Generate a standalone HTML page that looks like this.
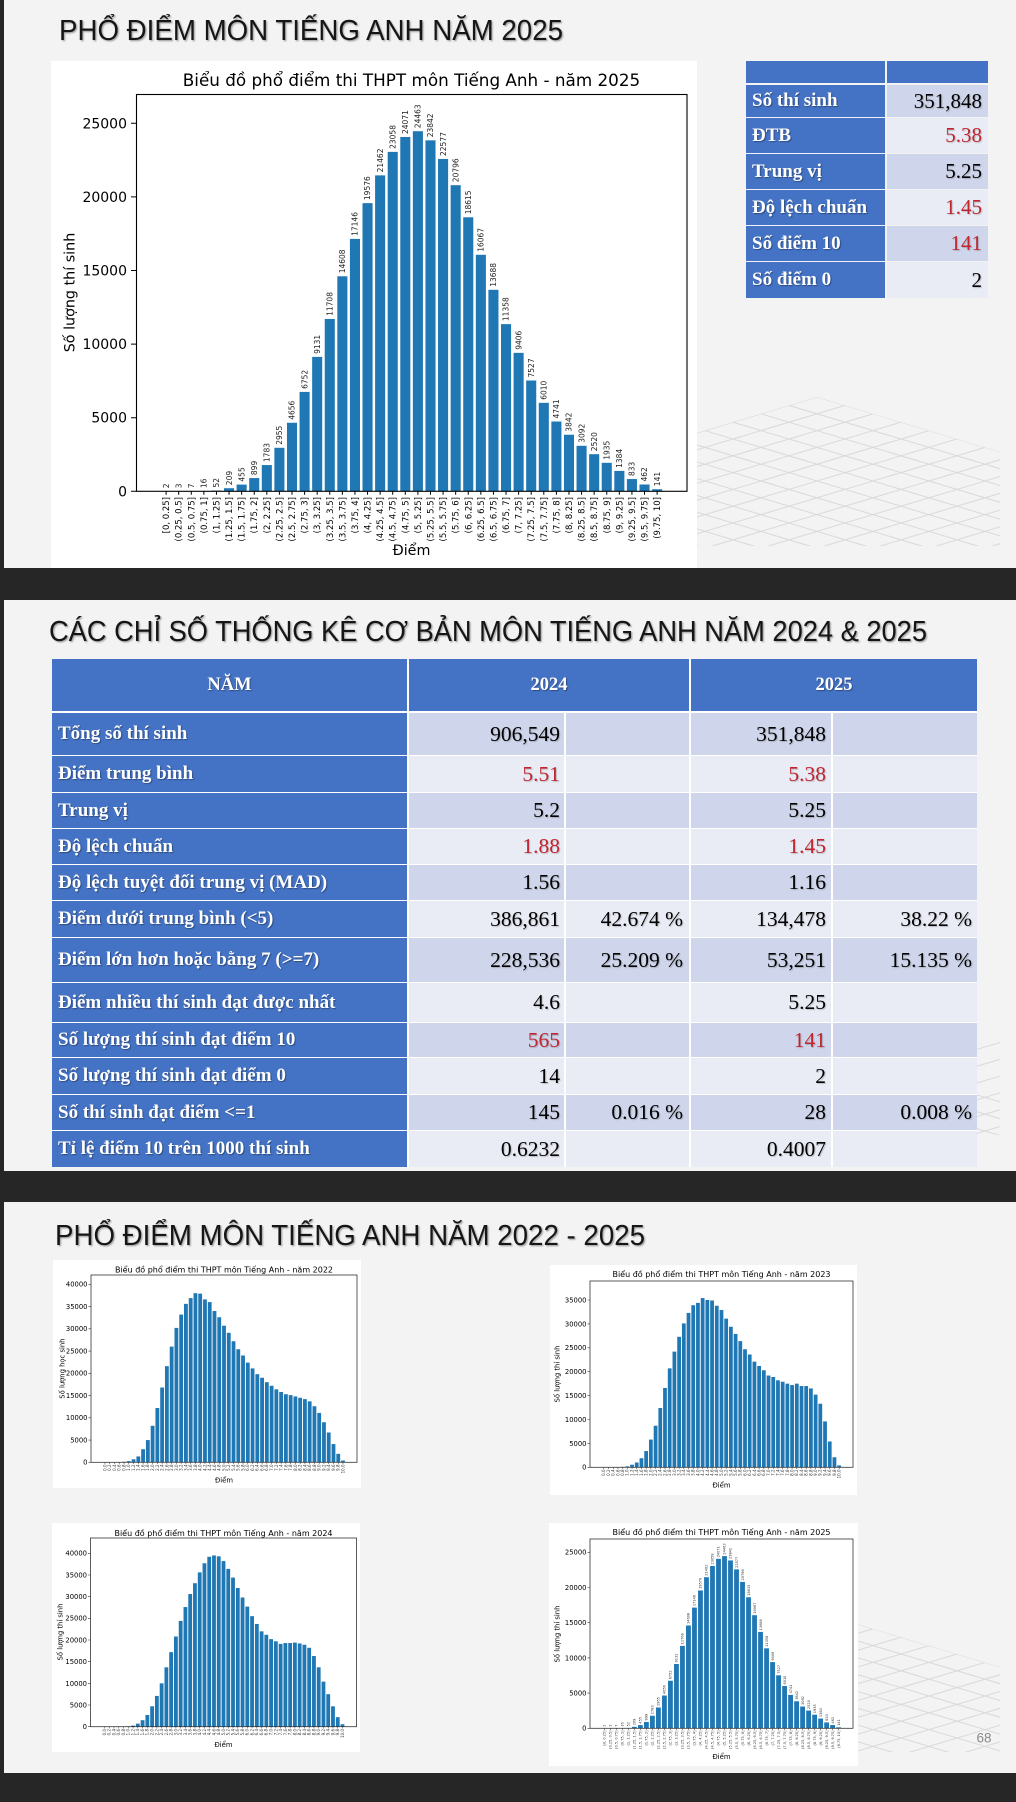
<!DOCTYPE html>
<html><head><meta charset="utf-8">
<style>
html,body{margin:0;padding:0}
body{width:1016px;height:1802px;background:#262626;position:relative;overflow:hidden;font-family:"Liberation Serif",serif}
.s{position:absolute;left:0;width:1016px;background:#f3f3f3}
.s:before{content:"";position:absolute;left:0;top:0;bottom:0;width:4px;background:#262626}
.c{position:absolute;box-sizing:border-box;display:flex;align-items:center;white-space:nowrap;overflow:hidden;font-family:"Liberation Serif",serif}
.l{background:#4472c4;color:#fff;font-weight:bold;font-size:19px;padding-left:6px;text-shadow:1px 1px 1px rgba(0,0,0,.35)}
.h{background:#4472c4;color:#fff;font-weight:bold;font-size:18.5px;justify-content:center;text-shadow:1px 1px 1px rgba(0,0,0,.35)}
.v{justify-content:flex-end;padding-right:5px;font-size:21.5px;color:#000;text-shadow:1px 1px 1px rgba(0,0,0,.2)}
.w{font-size:21px;padding-right:6px}
.d{background:#cfd5ea}.e{background:#e9ebf5}
.r{color:#c0262f}
</style></head><body>
<div class="s" style="top:0;height:568px"></div>
<div class="s" style="top:600px;height:571px"></div>
<div class="s" style="top:1202px;height:571px"></div>

<svg style="position:absolute;left:0;top:0" width="1016" height="1802" viewBox="0 0 1016 1802" font-family="DejaVu Sans, sans-serif">
<defs>
<filter id="ts" x="-5%" y="-30%" width="110%" height="160%"><feDropShadow dx="1.2" dy="1.2" stdDeviation="0.9" flood-color="#000" flood-opacity="0.35"/></filter>
<clipPath id="cg1"><polygon points="817,397 1000,452 1000,546 660,546 660,444"/></clipPath>
<clipPath id="cg2"><polygon points="977,1040 1000,1040 1000,1135 977,1135"/></clipPath>
<clipPath id="cg3"><polygon points="817,1612 1000,1667 1000,1752 858,1752 858,1624"/></clipPath>
</defs>

<!-- background grids -->
<g clip-path="url(#cg1)"><path fill="none" stroke="#d9d9d9" stroke-width="1" d="M660 349.9L1016 456.7M660 366.7L1016 473.5M660 383.5L1016 490.3M660 400.3L1016 507.1M660 417.1L1016 523.9M660 433.9L1016 540.7M660 450.7L1016 557.5M660 467.5L1016 574.3M660 484.3L1016 591.1M660 501.1L1016 607.9M660 517.9L1016 624.7M660 534.7L1016 641.5M660 444.1L1016 337.3M660 460.9L1016 354.1M660 477.7L1016 370.9M660 494.5L1016 387.7M660 511.3L1016 404.5M660 528.1L1016 421.3M660 544.9L1016 438.1M660 561.7L1016 454.9M660 578.5L1016 471.7M660 595.3L1016 488.5M660 612.1L1016 505.3M660 628.9L1016 522.1M660 645.7L1016 538.9M660 662.5L1016 555.7"/></g>
<g clip-path="url(#cg2)"><path transform="translate(0,650)" fill="none" stroke="#d9d9d9" stroke-width="1" d="M660 349.9L1016 456.7M660 366.7L1016 473.5M660 383.5L1016 490.3M660 400.3L1016 507.1M660 417.1L1016 523.9M660 433.9L1016 540.7M660 450.7L1016 557.5M660 467.5L1016 574.3M660 484.3L1016 591.1M660 501.1L1016 607.9M660 517.9L1016 624.7M660 534.7L1016 641.5M660 444.1L1016 337.3M660 460.9L1016 354.1M660 477.7L1016 370.9M660 494.5L1016 387.7M660 511.3L1016 404.5M660 528.1L1016 421.3M660 544.9L1016 438.1M660 561.7L1016 454.9M660 578.5L1016 471.7M660 595.3L1016 488.5M660 612.1L1016 505.3M660 628.9L1016 522.1M660 645.7L1016 538.9M660 662.5L1016 555.7"/></g>
<g clip-path="url(#cg3)"><path transform="translate(0,1215)" fill="none" stroke="#d9d9d9" stroke-width="1" d="M660 349.9L1016 456.7M660 366.7L1016 473.5M660 383.5L1016 490.3M660 400.3L1016 507.1M660 417.1L1016 523.9M660 433.9L1016 540.7M660 450.7L1016 557.5M660 467.5L1016 574.3M660 484.3L1016 591.1M660 501.1L1016 607.9M660 517.9L1016 624.7M660 534.7L1016 641.5M660 444.1L1016 337.3M660 460.9L1016 354.1M660 477.7L1016 370.9M660 494.5L1016 387.7M660 511.3L1016 404.5M660 528.1L1016 421.3M660 544.9L1016 438.1M660 561.7L1016 454.9M660 578.5L1016 471.7M660 595.3L1016 488.5M660 612.1L1016 505.3M660 628.9L1016 522.1M660 645.7L1016 538.9M660 662.5L1016 555.7"/></g>

<!-- slide titles -->
<g font-family="Liberation Sans, sans-serif" font-size="29" fill="#141414" filter="url(#ts)">
<text x="59" y="40" textLength="504" lengthAdjust="spacingAndGlyphs">PHỔ ĐIỂM MÔN TIẾNG ANH NĂM 2025</text>
<text x="49" y="641" textLength="878" lengthAdjust="spacingAndGlyphs">CÁC CHỈ SỐ THỐNG KÊ CƠ BẢN MÔN TIẾNG ANH NĂM 2024 &amp; 2025</text>
<text x="55" y="1245" textLength="590" lengthAdjust="spacingAndGlyphs">PHỔ ĐIỂM MÔN TIẾNG ANH NĂM 2022 - 2025</text>
</g>

<!-- ============ MAIN CHART 2025 ============ -->
<rect x="51" y="61" width="646" height="507" fill="#fff"/>
<text x="411.5" y="86" text-anchor="middle" font-size="16.8" fill="#000">Biểu đồ phổ điểm thi THPT môn Tiếng Anh - năm 2025</text>
<g transform="translate(166.1,491.3) scale(12.59,-0.01472)" fill="#1f77b4">
<rect x="-.4" width=".8" height="2"/><rect x=".6" width=".8" height="3"/><rect x="1.6" width=".8" height="7"/><rect x="2.6" width=".8" height="16"/><rect x="3.6" width=".8" height="52"/><rect x="4.6" width=".8" height="209"/><rect x="5.6" width=".8" height="455"/><rect x="6.6" width=".8" height="899"/><rect x="7.6" width=".8" height="1783"/><rect x="8.6" width=".8" height="2955"/><rect x="9.6" width=".8" height="4656"/><rect x="10.6" width=".8" height="6752"/><rect x="11.6" width=".8" height="9131"/><rect x="12.6" width=".8" height="11708"/><rect x="13.6" width=".8" height="14608"/><rect x="14.6" width=".8" height="17146"/><rect x="15.6" width=".8" height="19576"/><rect x="16.6" width=".8" height="21462"/><rect x="17.6" width=".8" height="23058"/><rect x="18.6" width=".8" height="24071"/><rect x="19.6" width=".8" height="24463"/><rect x="20.6" width=".8" height="23842"/><rect x="21.6" width=".8" height="22577"/><rect x="22.6" width=".8" height="20796"/><rect x="23.6" width=".8" height="18615"/><rect x="24.6" width=".8" height="16067"/><rect x="25.6" width=".8" height="13688"/><rect x="26.6" width=".8" height="11358"/><rect x="27.6" width=".8" height="9406"/><rect x="28.6" width=".8" height="7527"/><rect x="29.6" width=".8" height="6010"/><rect x="30.6" width=".8" height="4741"/><rect x="31.6" width=".8" height="3842"/><rect x="32.6" width=".8" height="3092"/><rect x="33.6" width=".8" height="2520"/><rect x="34.6" width=".8" height="1935"/><rect x="35.6" width=".8" height="1384"/><rect x="36.6" width=".8" height="833"/><rect x="37.6" width=".8" height="462"/><rect x="38.6" width=".8" height="141"/>
</g>
<rect x="136.5" y="94.5" width="550.5" height="396.8" fill="none" stroke="#000" stroke-width="1.1"/>
<path d="M131 491.3h5M131 417.7h5M131 344.1h5M131 270.5h5M131 196.9h5M131 123.3h5" stroke="#000" stroke-width="1"/>
<g transform="translate(166.1,491.3) scale(12.59,1)"><path vector-effect="non-scaling-stroke" stroke="#000" stroke-width="1" d="M0 0v3.5M1 0v3.5M2 0v3.5M3 0v3.5M4 0v3.5M5 0v3.5M6 0v3.5M7 0v3.5M8 0v3.5M9 0v3.5M10 0v3.5M11 0v3.5M12 0v3.5M13 0v3.5M14 0v3.5M15 0v3.5M16 0v3.5M17 0v3.5M18 0v3.5M19 0v3.5M20 0v3.5M21 0v3.5M22 0v3.5M23 0v3.5M24 0v3.5M25 0v3.5M26 0v3.5M27 0v3.5M28 0v3.5M29 0v3.5M30 0v3.5M31 0v3.5M32 0v3.5M33 0v3.5M34 0v3.5M35 0v3.5M36 0v3.5M37 0v3.5M38 0v3.5M39 0v3.5"/></g>
<g font-size="14" text-anchor="end" fill="#000">
<text x="127" y="491.3" dy=".36em">0</text><text x="127" y="417.7" dy=".36em">5000</text><text x="127" y="344.1" dy=".36em">10000</text><text x="127" y="270.5" dy=".36em">15000</text><text x="127" y="196.9" dy=".36em">20000</text><text x="127" y="123.3" dy=".36em">25000</text>
</g>
<text transform="translate(74.5,292.5) rotate(-90)" text-anchor="middle" font-size="14.3" fill="#000">Số lượng thí sinh</text>
<text x="411.5" y="555" text-anchor="middle" font-size="14.3" fill="#000">Điểm</text>
<g transform="rotate(-90)" font-size="8.5" text-anchor="end" fill="#000">
<text x="-497" y="169.1">[0, 0.25]</text><text x="-497" y="181.7">(0.25, 0.5]</text><text x="-497" y="194.3">(0.5, 0.75]</text><text x="-497" y="206.9">(0.75, 1]</text><text x="-497" y="219.5">(1, 1.25]</text><text x="-497" y="232.1">(1.25, 1.5]</text><text x="-497" y="244.6">(1.5, 1.75]</text><text x="-497" y="257.2">(1.75, 2]</text><text x="-497" y="269.8">(2, 2.25]</text><text x="-497" y="282.4">(2.25, 2.5]</text><text x="-497" y="295">(2.5, 2.75]</text><text x="-497" y="307.6">(2.75, 3]</text><text x="-497" y="320.2">(3, 3.25]</text><text x="-497" y="332.8">(3.25, 3.5]</text><text x="-497" y="345.4">(3.5, 3.75]</text><text x="-497" y="358">(3.75, 4]</text><text x="-497" y="370.5">(4, 4.25]</text><text x="-497" y="383.1">(4.25, 4.5]</text><text x="-497" y="395.7">(4.5, 4.75]</text><text x="-497" y="408.3">(4.75, 5]</text><text x="-497" y="420.9">(5, 5.25]</text><text x="-497" y="433.5">(5.25, 5.5]</text><text x="-497" y="446.1">(5.5, 5.75]</text><text x="-497" y="458.7">(5.75, 6]</text><text x="-497" y="471.3">(6, 6.25]</text><text x="-497" y="483.9">(6.25, 6.5]</text><text x="-497" y="496.4">(6.5, 6.75]</text><text x="-497" y="509">(6.75, 7]</text><text x="-497" y="521.6">(7, 7.25]</text><text x="-497" y="534.2">(7.25, 7.5]</text><text x="-497" y="546.8">(7.5, 7.75]</text><text x="-497" y="559.4">(7.75, 8]</text><text x="-497" y="572">(8, 8.25]</text><text x="-497" y="584.6">(8.25, 8.5]</text><text x="-497" y="597.2">(8.5, 8.75]</text><text x="-497" y="609.8">(8.75, 9]</text><text x="-497" y="622.3">(9, 9.25]</text><text x="-497" y="634.9">(9.25, 9.5]</text><text x="-497" y="647.5">(9.5, 9.75]</text><text x="-497" y="660.1">(9.75, 10]</text>
</g>
<g transform="rotate(-90)" font-size="7.5" fill="#222">
<text x="-488.3" y="168.8">2</text><text x="-488.3" y="181.4">3</text><text x="-488.2" y="194">7</text><text x="-488.1" y="206.6">16</text><text x="-487.5" y="219.2">52</text><text x="-485.2" y="231.8">209</text><text x="-481.6" y="244.3">455</text><text x="-475.1" y="256.9">899</text><text x="-462.1" y="269.5">1783</text><text x="-444.8" y="282.1">2955</text><text x="-419.8" y="294.7">4656</text><text x="-388.9" y="307.3">6752</text><text x="-353.9" y="319.9">9131</text><text x="-315.9" y="332.5">11708</text><text x="-273.3" y="345.1">14608</text><text x="-235.9" y="357.7">17146</text><text x="-200.1" y="370.2">19576</text><text x="-172.4" y="382.8">21462</text><text x="-148.9" y="395.4">23058</text><text x="-134" y="408">24071</text><text x="-128.2" y="420.6">24463</text><text x="-137.3" y="433.2">23842</text><text x="-156" y="445.8">22577</text><text x="-182.2" y="458.4">20796</text><text x="-214.3" y="471">18615</text><text x="-251.8" y="483.6">16067</text><text x="-286.8" y="496.1">13688</text><text x="-321.1" y="508.7">11358</text><text x="-349.8" y="521.3">9406</text><text x="-377.5" y="533.9">7527</text><text x="-399.8" y="546.5">6010</text><text x="-418.5" y="559.1">4741</text><text x="-431.7" y="571.7">3842</text><text x="-442.8" y="584.3">3092</text><text x="-451.2" y="596.9">2520</text><text x="-459.8" y="609.5">1935</text><text x="-467.9" y="622">1384</text><text x="-476" y="634.6">833</text><text x="-481.5" y="647.2">462</text><text x="-486.2" y="659.8">141</text>
</g>

<!-- ============ CHART A 2022 ============ -->
<rect x="53" y="1260" width="308" height="228" fill="#fff"/>
<text x="224" y="1272.5" text-anchor="middle" font-size="8" fill="#000">Biểu đồ phổ điểm thi THPT môn Tiếng Anh - năm 2022</text>
<g transform="translate(105,1462.3) scale(4.76,-0.00445)" fill="#1f77b4">
<rect x="-.4" width=".8" height="13"/><rect x=".6" width=".8" height="8"/><rect x="1.6" width=".8" height="4"/><rect x="2.6" width=".8" height="23"/><rect x="3.6" width=".8" height="117"/><rect x="4.6" width=".8" height="271"/><rect x="5.6" width=".8" height="678"/><rect x="6.6" width=".8" height="1316"/><rect x="7.6" width=".8" height="2937"/><rect x="8.6" width=".8" height="5000"/><rect x="9.6" width=".8" height="8200"/><rect x="10.6" width=".8" height="12200"/><rect x="11.6" width=".8" height="16800"/><rect x="12.6" width=".8" height="21600"/><rect x="13.6" width=".8" height="26000"/><rect x="14.6" width=".8" height="30200"/><rect x="15.6" width=".8" height="33200"/><rect x="16.6" width=".8" height="35600"/><rect x="17.6" width=".8" height="36900"/><rect x="18.6" width=".8" height="38000"/><rect x="19.6" width=".8" height="37900"/><rect x="20.6" width=".8" height="36600"/><rect x="21.6" width=".8" height="36000"/><rect x="22.6" width=".8" height="34000"/><rect x="23.6" width=".8" height="32600"/><rect x="24.6" width=".8" height="30700"/><rect x="25.6" width=".8" height="29100"/><rect x="26.6" width=".8" height="27200"/><rect x="27.6" width=".8" height="25400"/><rect x="28.6" width=".8" height="24000"/><rect x="29.6" width=".8" height="22400"/><rect x="30.6" width=".8" height="21100"/><rect x="31.6" width=".8" height="19800"/><rect x="32.6" width=".8" height="19000"/><rect x="33.6" width=".8" height="18000"/><rect x="34.6" width=".8" height="17200"/><rect x="35.6" width=".8" height="16400"/><rect x="36.6" width=".8" height="15800"/><rect x="37.6" width=".8" height="15300"/><rect x="38.6" width=".8" height="15100"/><rect x="39.6" width=".8" height="14800"/><rect x="40.6" width=".8" height="14500"/><rect x="41.6" width=".8" height="14200"/><rect x="42.6" width=".8" height="13700"/><rect x="43.6" width=".8" height="12600"/><rect x="44.6" width=".8" height="11100"/><rect x="45.6" width=".8" height="9000"/><rect x="46.6" width=".8" height="6700"/><rect x="47.6" width=".8" height="4100"/><rect x="48.6" width=".8" height="1900"/><rect x="49.6" width=".8" height="400"/>
</g>
<rect x="91" y="1275" width="266" height="187.3" fill="none" stroke="#333" stroke-width=".8"/>
<path d="M88.5 1462.3h2.5M88.5 1440.05h2.5M88.5 1417.8h2.5M88.5 1395.55h2.5M88.5 1373.3h2.5M88.5 1351.05h2.5M88.5 1328.8h2.5M88.5 1306.55h2.5M88.5 1284.3h2.5" stroke="#333" stroke-width=".6"/>
<g transform="translate(105,1462.3) scale(4.76,1)"><path vector-effect="non-scaling-stroke" stroke="#333" stroke-width=".5" d="M0 0v1.8M1 0v1.8M2 0v1.8M3 0v1.8M4 0v1.8M5 0v1.8M6 0v1.8M7 0v1.8M8 0v1.8M9 0v1.8M10 0v1.8M11 0v1.8M12 0v1.8M13 0v1.8M14 0v1.8M15 0v1.8M16 0v1.8M17 0v1.8M18 0v1.8M19 0v1.8M20 0v1.8M21 0v1.8M22 0v1.8M23 0v1.8M24 0v1.8M25 0v1.8M26 0v1.8M27 0v1.8M28 0v1.8M29 0v1.8M30 0v1.8M31 0v1.8M32 0v1.8M33 0v1.8M34 0v1.8M35 0v1.8M36 0v1.8M37 0v1.8M38 0v1.8M39 0v1.8M40 0v1.8M41 0v1.8M42 0v1.8M43 0v1.8M44 0v1.8M45 0v1.8M46 0v1.8M47 0v1.8M48 0v1.8M49 0v1.8M50 0v1.8"/></g>
<g font-size="6.8" text-anchor="end" fill="#000">
<text x="87.5" y="1462.3" dy=".36em">0</text><text x="87.5" y="1440.05" dy=".36em">5000</text><text x="87.5" y="1417.8" dy=".36em">10000</text><text x="87.5" y="1395.55" dy=".36em">15000</text><text x="87.5" y="1373.3" dy=".36em">20000</text><text x="87.5" y="1351.05" dy=".36em">25000</text><text x="87.5" y="1328.8" dy=".36em">30000</text><text x="87.5" y="1306.55" dy=".36em">35000</text><text x="87.5" y="1284.3" dy=".36em">40000</text>
</g>
<text transform="translate(64.5,1368.6) rotate(-90)" text-anchor="middle" font-size="6.8" fill="#000">Số lượng học sinh</text>
<text x="224" y="1482.5" text-anchor="middle" font-size="6.8" fill="#000">Điểm</text>
<g transform="rotate(-90)" font-size="4" text-anchor="end" fill="#333">
<text x="-1464.5" y="106.4">0.0</text><text x="-1464.5" y="111.16">0.2</text><text x="-1464.5" y="115.92">0.4</text><text x="-1464.5" y="120.68">0.6</text><text x="-1464.5" y="125.44">0.8</text><text x="-1464.5" y="130.2">1.0</text><text x="-1464.5" y="134.96">1.2</text><text x="-1464.5" y="139.72">1.4</text><text x="-1464.5" y="144.48">1.6</text><text x="-1464.5" y="149.24">1.8</text><text x="-1464.5" y="154">2.0</text><text x="-1464.5" y="158.76">2.2</text><text x="-1464.5" y="163.52">2.4</text><text x="-1464.5" y="168.28">2.6</text><text x="-1464.5" y="173.04">2.8</text><text x="-1464.5" y="177.8">3.0</text><text x="-1464.5" y="182.56">3.2</text><text x="-1464.5" y="187.32">3.4</text><text x="-1464.5" y="192.08">3.6</text><text x="-1464.5" y="196.84">3.8</text><text x="-1464.5" y="201.6">4.0</text><text x="-1464.5" y="206.36">4.2</text><text x="-1464.5" y="211.12">4.4</text><text x="-1464.5" y="215.88">4.6</text><text x="-1464.5" y="220.64">4.8</text><text x="-1464.5" y="225.4">5.0</text><text x="-1464.5" y="230.16">5.2</text><text x="-1464.5" y="234.92">5.4</text><text x="-1464.5" y="239.68">5.6</text><text x="-1464.5" y="244.44">5.8</text><text x="-1464.5" y="249.2">6.0</text><text x="-1464.5" y="253.96">6.2</text><text x="-1464.5" y="258.72">6.4</text><text x="-1464.5" y="263.48">6.6</text><text x="-1464.5" y="268.24">6.8</text><text x="-1464.5" y="273">7.0</text><text x="-1464.5" y="277.76">7.2</text><text x="-1464.5" y="282.52">7.4</text><text x="-1464.5" y="287.28">7.6</text><text x="-1464.5" y="292.04">7.8</text><text x="-1464.5" y="296.8">8.0</text><text x="-1464.5" y="301.56">8.2</text><text x="-1464.5" y="306.32">8.4</text><text x="-1464.5" y="311.08">8.6</text><text x="-1464.5" y="315.84">8.8</text><text x="-1464.5" y="320.6">9.0</text><text x="-1464.5" y="325.36">9.2</text><text x="-1464.5" y="330.12">9.4</text><text x="-1464.5" y="334.88">9.6</text><text x="-1464.5" y="339.64">9.8</text><text x="-1464.5" y="344.4">10.0</text>
</g>

<!-- ============ CHART B 2023 ============ -->
<rect x="550" y="1265" width="307" height="230" fill="#fff"/>
<text x="721.5" y="1277" text-anchor="middle" font-size="8" fill="#000">Biểu đồ phổ điểm thi THPT môn Tiếng Anh - năm 2023</text>
<g transform="translate(603.8,1467.3) scale(4.707,-0.00478)" fill="#1f77b4">
<rect x="-.4" width=".8" height="5"/><rect x=".6" width=".8" height="3"/><rect x="1.6" width=".8" height="6"/><rect x="2.6" width=".8" height="50"/><rect x="3.6" width=".8" height="100"/><rect x="4.6" width=".8" height="200"/><rect x="5.6" width=".8" height="542"/><rect x="6.6" width=".8" height="1000"/><rect x="7.6" width=".8" height="1900"/><rect x="8.6" width=".8" height="3400"/><rect x="9.6" width=".8" height="5800"/><rect x="10.6" width=".8" height="8700"/><rect x="11.6" width=".8" height="12400"/><rect x="12.6" width=".8" height="16600"/><rect x="13.6" width=".8" height="20700"/><rect x="14.6" width=".8" height="24200"/><rect x="15.6" width=".8" height="27300"/><rect x="16.6" width=".8" height="30100"/><rect x="17.6" width=".8" height="32300"/><rect x="18.6" width=".8" height="33900"/><rect x="19.6" width=".8" height="34400"/><rect x="20.6" width=".8" height="35400"/><rect x="21.6" width=".8" height="35000"/><rect x="22.6" width=".8" height="34900"/><rect x="23.6" width=".8" height="33800"/><rect x="24.6" width=".8" height="32900"/><rect x="25.6" width=".8" height="31100"/><rect x="26.6" width=".8" height="29400"/><rect x="27.6" width=".8" height="27900"/><rect x="28.6" width=".8" height="26400"/><rect x="29.6" width=".8" height="24700"/><rect x="30.6" width=".8" height="23600"/><rect x="31.6" width=".8" height="22100"/><rect x="32.6" width=".8" height="21200"/><rect x="33.6" width=".8" height="20300"/><rect x="34.6" width=".8" height="19200"/><rect x="35.6" width=".8" height="18900"/><rect x="36.6" width=".8" height="18200"/><rect x="37.6" width=".8" height="17900"/><rect x="38.6" width=".8" height="17500"/><rect x="39.6" width=".8" height="17200"/><rect x="40.6" width=".8" height="17500"/><rect x="41.6" width=".8" height="17000"/><rect x="42.6" width=".8" height="17000"/><rect x="43.6" width=".8" height="16500"/><rect x="44.6" width=".8" height="15200"/><rect x="45.6" width=".8" height="13300"/><rect x="46.6" width=".8" height="9600"/><rect x="47.6" width=".8" height="5400"/><rect x="48.6" width=".8" height="2100"/><rect x="49.6" width=".8" height="400"/>
</g>
<rect x="590" y="1281" width="263" height="186.3" fill="none" stroke="#333" stroke-width=".8"/>
<path d="M587.5 1467.3h2.5M587.5 1443.4h2.5M587.5 1419.5h2.5M587.5 1395.6h2.5M587.5 1371.7h2.5M587.5 1347.8h2.5M587.5 1323.9h2.5M587.5 1300h2.5" stroke="#333" stroke-width=".6"/>
<g transform="translate(603.8,1467.3) scale(4.707,1)"><path vector-effect="non-scaling-stroke" stroke="#333" stroke-width=".5" d="M0 0v1.8M1 0v1.8M2 0v1.8M3 0v1.8M4 0v1.8M5 0v1.8M6 0v1.8M7 0v1.8M8 0v1.8M9 0v1.8M10 0v1.8M11 0v1.8M12 0v1.8M13 0v1.8M14 0v1.8M15 0v1.8M16 0v1.8M17 0v1.8M18 0v1.8M19 0v1.8M20 0v1.8M21 0v1.8M22 0v1.8M23 0v1.8M24 0v1.8M25 0v1.8M26 0v1.8M27 0v1.8M28 0v1.8M29 0v1.8M30 0v1.8M31 0v1.8M32 0v1.8M33 0v1.8M34 0v1.8M35 0v1.8M36 0v1.8M37 0v1.8M38 0v1.8M39 0v1.8M40 0v1.8M41 0v1.8M42 0v1.8M43 0v1.8M44 0v1.8M45 0v1.8M46 0v1.8M47 0v1.8M48 0v1.8M49 0v1.8M50 0v1.8"/></g>
<g font-size="6.8" text-anchor="end" fill="#000">
<text x="586.5" y="1467.3" dy=".36em">0</text><text x="586.5" y="1443.4" dy=".36em">5000</text><text x="586.5" y="1419.5" dy=".36em">10000</text><text x="586.5" y="1395.6" dy=".36em">15000</text><text x="586.5" y="1371.7" dy=".36em">20000</text><text x="586.5" y="1347.8" dy=".36em">25000</text><text x="586.5" y="1323.9" dy=".36em">30000</text><text x="586.5" y="1300" dy=".36em">35000</text>
</g>
<text transform="translate(559.5,1374) rotate(-90)" text-anchor="middle" font-size="6.8" fill="#000">Số lượng thí sinh</text>
<text x="721.5" y="1487.5" text-anchor="middle" font-size="6.8" fill="#000">Điểm</text>
<g transform="rotate(-90)" font-size="4" text-anchor="end" fill="#333">
<text x="-1469.5" y="605.2">0.0</text><text x="-1469.5" y="609.91">0.2</text><text x="-1469.5" y="614.61">0.4</text><text x="-1469.5" y="619.32">0.6</text><text x="-1469.5" y="624.03">0.8</text><text x="-1469.5" y="628.74">1.0</text><text x="-1469.5" y="633.44">1.2</text><text x="-1469.5" y="638.15">1.4</text><text x="-1469.5" y="642.86">1.6</text><text x="-1469.5" y="647.56">1.8</text><text x="-1469.5" y="652.27">2.0</text><text x="-1469.5" y="656.98">2.2</text><text x="-1469.5" y="661.68">2.4</text><text x="-1469.5" y="666.39">2.6</text><text x="-1469.5" y="671.1">2.8</text><text x="-1469.5" y="675.81">3.0</text><text x="-1469.5" y="680.51">3.2</text><text x="-1469.5" y="685.22">3.4</text><text x="-1469.5" y="689.93">3.6</text><text x="-1469.5" y="694.63">3.8</text><text x="-1469.5" y="699.34">4.0</text><text x="-1469.5" y="704.05">4.2</text><text x="-1469.5" y="708.75">4.4</text><text x="-1469.5" y="713.46">4.6</text><text x="-1469.5" y="718.17">4.8</text><text x="-1469.5" y="722.88">5.0</text><text x="-1469.5" y="727.58">5.2</text><text x="-1469.5" y="732.29">5.4</text><text x="-1469.5" y="737">5.6</text><text x="-1469.5" y="741.7">5.8</text><text x="-1469.5" y="746.41">6.0</text><text x="-1469.5" y="751.12">6.2</text><text x="-1469.5" y="755.82">6.4</text><text x="-1469.5" y="760.53">6.6</text><text x="-1469.5" y="765.24">6.8</text><text x="-1469.5" y="769.95">7.0</text><text x="-1469.5" y="774.65">7.2</text><text x="-1469.5" y="779.36">7.4</text><text x="-1469.5" y="784.07">7.6</text><text x="-1469.5" y="788.77">7.8</text><text x="-1469.5" y="793.48">8.0</text><text x="-1469.5" y="798.19">8.2</text><text x="-1469.5" y="802.89">8.4</text><text x="-1469.5" y="807.6">8.6</text><text x="-1469.5" y="812.31">8.8</text><text x="-1469.5" y="817.02">9.0</text><text x="-1469.5" y="821.72">9.2</text><text x="-1469.5" y="826.43">9.4</text><text x="-1469.5" y="831.14">9.6</text><text x="-1469.5" y="835.84">9.8</text><text x="-1469.5" y="840.55">10.0</text>
</g>

<!-- ============ CHART C 2024 ============ -->
<rect x="52" y="1523" width="308" height="229" fill="#fff"/>
<text x="223.5" y="1536" text-anchor="middle" font-size="8" fill="#000">Biểu đồ phổ điểm thi THPT môn Tiếng Anh - năm 2024</text>
<g transform="translate(104.5,1726.7) scale(4.76,-0.004335)" fill="#1f77b4">
<rect x="-.4" width=".8" height="14"/><rect x=".6" width=".8" height="10"/><rect x="1.6" width=".8" height="15"/><rect x="2.6" width=".8" height="30"/><rect x="3.6" width=".8" height="50"/><rect x="4.6" width=".8" height="82"/><rect x="5.6" width=".8" height="253"/><rect x="6.6" width=".8" height="700"/><rect x="7.6" width=".8" height="1500"/><rect x="8.6" width=".8" height="2700"/><rect x="9.6" width=".8" height="4700"/><rect x="10.6" width=".8" height="7100"/><rect x="11.6" width=".8" height="10000"/><rect x="12.6" width=".8" height="13700"/><rect x="13.6" width=".8" height="17200"/><rect x="14.6" width=".8" height="20800"/><rect x="15.6" width=".8" height="24400"/><rect x="16.6" width=".8" height="27600"/><rect x="17.6" width=".8" height="30600"/><rect x="18.6" width=".8" height="33100"/><rect x="19.6" width=".8" height="35600"/><rect x="20.6" width=".8" height="37700"/><rect x="21.6" width=".8" height="39200"/><rect x="22.6" width=".8" height="39500"/><rect x="23.6" width=".8" height="39300"/><rect x="24.6" width=".8" height="38200"/><rect x="25.6" width=".8" height="36400"/><rect x="26.6" width=".8" height="34400"/><rect x="27.6" width=".8" height="32000"/><rect x="28.6" width=".8" height="29800"/><rect x="29.6" width=".8" height="27700"/><rect x="30.6" width=".8" height="25500"/><rect x="31.6" width=".8" height="23700"/><rect x="32.6" width=".8" height="22000"/><rect x="33.6" width=".8" height="21200"/><rect x="34.6" width=".8" height="20200"/><rect x="35.6" width=".8" height="19700"/><rect x="36.6" width=".8" height="19100"/><rect x="37.6" width=".8" height="19300"/><rect x="38.6" width=".8" height="19300"/><rect x="39.6" width=".8" height="19400"/><rect x="40.6" width=".8" height="19200"/><rect x="41.6" width=".8" height="18900"/><rect x="42.6" width=".8" height="18200"/><rect x="43.6" width=".8" height="16300"/><rect x="44.6" width=".8" height="13700"/><rect x="45.6" width=".8" height="10400"/><rect x="46.6" width=".8" height="7500"/><rect x="47.6" width=".8" height="4700"/><rect x="48.6" width=".8" height="2200"/><rect x="49.6" width=".8" height="565"/>
</g>
<rect x="90.5" y="1538" width="266" height="188.7" fill="none" stroke="#333" stroke-width=".8"/>
<path d="M88 1726.7h2.5M88 1705h2.5M88 1683.35h2.5M88 1661.7h2.5M88 1640h2.5M88 1618.3h2.5M88 1596.65h2.5M88 1575h2.5M88 1553.3h2.5" stroke="#333" stroke-width=".6"/>
<g transform="translate(104.5,1726.7) scale(4.76,1)"><path vector-effect="non-scaling-stroke" stroke="#333" stroke-width=".5" d="M0 0v1.8M1 0v1.8M2 0v1.8M3 0v1.8M4 0v1.8M5 0v1.8M6 0v1.8M7 0v1.8M8 0v1.8M9 0v1.8M10 0v1.8M11 0v1.8M12 0v1.8M13 0v1.8M14 0v1.8M15 0v1.8M16 0v1.8M17 0v1.8M18 0v1.8M19 0v1.8M20 0v1.8M21 0v1.8M22 0v1.8M23 0v1.8M24 0v1.8M25 0v1.8M26 0v1.8M27 0v1.8M28 0v1.8M29 0v1.8M30 0v1.8M31 0v1.8M32 0v1.8M33 0v1.8M34 0v1.8M35 0v1.8M36 0v1.8M37 0v1.8M38 0v1.8M39 0v1.8M40 0v1.8M41 0v1.8M42 0v1.8M43 0v1.8M44 0v1.8M45 0v1.8M46 0v1.8M47 0v1.8M48 0v1.8M49 0v1.8M50 0v1.8"/></g>
<g font-size="6.8" text-anchor="end" fill="#000">
<text x="87" y="1726.7" dy=".36em">0</text><text x="87" y="1705" dy=".36em">5000</text><text x="87" y="1683.35" dy=".36em">10000</text><text x="87" y="1661.7" dy=".36em">15000</text><text x="87" y="1640" dy=".36em">20000</text><text x="87" y="1618.3" dy=".36em">25000</text><text x="87" y="1596.65" dy=".36em">30000</text><text x="87" y="1575" dy=".36em">35000</text><text x="87" y="1553.3" dy=".36em">40000</text>
</g>
<text transform="translate(62.5,1632) rotate(-90)" text-anchor="middle" font-size="6.8" fill="#000">Số lượng thí sinh</text>
<text x="223.5" y="1747" text-anchor="middle" font-size="6.8" fill="#000">Điểm</text>
<g transform="translate(-0.5,264.5)"><g transform="rotate(-90)" font-size="4" text-anchor="end" fill="#333">
<text x="-1464.5" y="106.4">0.0</text><text x="-1464.5" y="111.16">0.2</text><text x="-1464.5" y="115.92">0.4</text><text x="-1464.5" y="120.68">0.6</text><text x="-1464.5" y="125.44">0.8</text><text x="-1464.5" y="130.2">1.0</text><text x="-1464.5" y="134.96">1.2</text><text x="-1464.5" y="139.72">1.4</text><text x="-1464.5" y="144.48">1.6</text><text x="-1464.5" y="149.24">1.8</text><text x="-1464.5" y="154">2.0</text><text x="-1464.5" y="158.76">2.2</text><text x="-1464.5" y="163.52">2.4</text><text x="-1464.5" y="168.28">2.6</text><text x="-1464.5" y="173.04">2.8</text><text x="-1464.5" y="177.8">3.0</text><text x="-1464.5" y="182.56">3.2</text><text x="-1464.5" y="187.32">3.4</text><text x="-1464.5" y="192.08">3.6</text><text x="-1464.5" y="196.84">3.8</text><text x="-1464.5" y="201.6">4.0</text><text x="-1464.5" y="206.36">4.2</text><text x="-1464.5" y="211.12">4.4</text><text x="-1464.5" y="215.88">4.6</text><text x="-1464.5" y="220.64">4.8</text><text x="-1464.5" y="225.4">5.0</text><text x="-1464.5" y="230.16">5.2</text><text x="-1464.5" y="234.92">5.4</text><text x="-1464.5" y="239.68">5.6</text><text x="-1464.5" y="244.44">5.8</text><text x="-1464.5" y="249.2">6.0</text><text x="-1464.5" y="253.96">6.2</text><text x="-1464.5" y="258.72">6.4</text><text x="-1464.5" y="263.48">6.6</text><text x="-1464.5" y="268.24">6.8</text><text x="-1464.5" y="273">7.0</text><text x="-1464.5" y="277.76">7.2</text><text x="-1464.5" y="282.52">7.4</text><text x="-1464.5" y="287.28">7.6</text><text x="-1464.5" y="292.04">7.8</text><text x="-1464.5" y="296.8">8.0</text><text x="-1464.5" y="301.56">8.2</text><text x="-1464.5" y="306.32">8.4</text><text x="-1464.5" y="311.08">8.6</text><text x="-1464.5" y="315.84">8.8</text><text x="-1464.5" y="320.6">9.0</text><text x="-1464.5" y="325.36">9.2</text><text x="-1464.5" y="330.12">9.4</text><text x="-1464.5" y="334.88">9.6</text><text x="-1464.5" y="339.64">9.8</text><text x="-1464.5" y="344.4">10.0</text>
</g></g>

<!-- ============ CHART D 2025 small ============ -->
<rect x="549" y="1523" width="309" height="243" fill="#fff"/>
<text x="721.5" y="1535" text-anchor="middle" font-size="8" fill="#000">Biểu đồ phổ điểm thi THPT môn Tiếng Anh - năm 2025</text>
<g transform="translate(604.36,1728.3) scale(6.007,-0.00704)" fill="#1f77b4">
<rect x="-.4" width=".8" height="2"/><rect x=".6" width=".8" height="3"/><rect x="1.6" width=".8" height="7"/><rect x="2.6" width=".8" height="16"/><rect x="3.6" width=".8" height="52"/><rect x="4.6" width=".8" height="209"/><rect x="5.6" width=".8" height="455"/><rect x="6.6" width=".8" height="899"/><rect x="7.6" width=".8" height="1783"/><rect x="8.6" width=".8" height="2955"/><rect x="9.6" width=".8" height="4656"/><rect x="10.6" width=".8" height="6752"/><rect x="11.6" width=".8" height="9131"/><rect x="12.6" width=".8" height="11708"/><rect x="13.6" width=".8" height="14608"/><rect x="14.6" width=".8" height="17146"/><rect x="15.6" width=".8" height="19576"/><rect x="16.6" width=".8" height="21462"/><rect x="17.6" width=".8" height="23058"/><rect x="18.6" width=".8" height="24071"/><rect x="19.6" width=".8" height="24463"/><rect x="20.6" width=".8" height="23842"/><rect x="21.6" width=".8" height="22577"/><rect x="22.6" width=".8" height="20796"/><rect x="23.6" width=".8" height="18615"/><rect x="24.6" width=".8" height="16067"/><rect x="25.6" width=".8" height="13688"/><rect x="26.6" width=".8" height="11358"/><rect x="27.6" width=".8" height="9406"/><rect x="28.6" width=".8" height="7527"/><rect x="29.6" width=".8" height="6010"/><rect x="30.6" width=".8" height="4741"/><rect x="31.6" width=".8" height="3842"/><rect x="32.6" width=".8" height="3092"/><rect x="33.6" width=".8" height="2520"/><rect x="34.6" width=".8" height="1935"/><rect x="35.6" width=".8" height="1384"/><rect x="36.6" width=".8" height="833"/><rect x="37.6" width=".8" height="462"/><rect x="38.6" width=".8" height="141"/>
</g>
<rect x="590" y="1539" width="263" height="189.3" fill="none" stroke="#333" stroke-width=".8"/>
<path d="M587.5 1728.3h2.5M587.5 1693.1h2.5M587.5 1657.9h2.5M587.5 1622.7h2.5M587.5 1587.5h2.5M587.5 1552.3h2.5" stroke="#333" stroke-width=".6"/>
<g transform="translate(604.36,1728.3) scale(6.007,1)"><path vector-effect="non-scaling-stroke" stroke="#333" stroke-width=".5" d="M0 0v1.8M1 0v1.8M2 0v1.8M3 0v1.8M4 0v1.8M5 0v1.8M6 0v1.8M7 0v1.8M8 0v1.8M9 0v1.8M10 0v1.8M11 0v1.8M12 0v1.8M13 0v1.8M14 0v1.8M15 0v1.8M16 0v1.8M17 0v1.8M18 0v1.8M19 0v1.8M20 0v1.8M21 0v1.8M22 0v1.8M23 0v1.8M24 0v1.8M25 0v1.8M26 0v1.8M27 0v1.8M28 0v1.8M29 0v1.8M30 0v1.8M31 0v1.8M32 0v1.8M33 0v1.8M34 0v1.8M35 0v1.8M36 0v1.8M37 0v1.8M38 0v1.8M39 0v1.8"/></g>
<g font-size="6.8" text-anchor="end" fill="#000">
<text x="586.5" y="1728.3" dy=".36em">0</text><text x="586.5" y="1693.1" dy=".36em">5000</text><text x="586.5" y="1657.9" dy=".36em">10000</text><text x="586.5" y="1622.7" dy=".36em">15000</text><text x="586.5" y="1587.5" dy=".36em">20000</text><text x="586.5" y="1552.3" dy=".36em">25000</text>
</g>
<text transform="translate(559.5,1634) rotate(-90)" text-anchor="middle" font-size="6.8" fill="#000">Số lượng thí sinh</text>
<text x="721.5" y="1759" text-anchor="middle" font-size="6.8" fill="#000">Điểm</text>
<g transform="rotate(-90)" font-size="3.5" text-anchor="end" fill="#333">
<text x="-1730.5" y="605.6">[0, 0.25]</text><text x="-1730.5" y="611.6">(0.25, 0.5]</text><text x="-1730.5" y="617.6">(0.5, 0.75]</text><text x="-1730.5" y="623.6">(0.75, 1]</text><text x="-1730.5" y="629.6">(1, 1.25]</text><text x="-1730.5" y="635.6">(1.25, 1.5]</text><text x="-1730.5" y="641.6">(1.5, 1.75]</text><text x="-1730.5" y="647.7">(1.75, 2]</text><text x="-1730.5" y="653.7">(2, 2.25]</text><text x="-1730.5" y="659.7">(2.25, 2.5]</text><text x="-1730.5" y="665.7">(2.5, 2.75]</text><text x="-1730.5" y="671.7">(2.75, 3]</text><text x="-1730.5" y="677.7">(3, 3.25]</text><text x="-1730.5" y="683.7">(3.25, 3.5]</text><text x="-1730.5" y="689.7">(3.5, 3.75]</text><text x="-1730.5" y="695.7">(3.75, 4]</text><text x="-1730.5" y="701.7">(4, 4.25]</text><text x="-1730.5" y="707.7">(4.25, 4.5]</text><text x="-1730.5" y="713.7">(4.5, 4.75]</text><text x="-1730.5" y="719.7">(4.75, 5]</text><text x="-1730.5" y="725.7">(5, 5.25]</text><text x="-1730.5" y="731.7">(5.25, 5.5]</text><text x="-1730.5" y="737.8">(5.5, 5.75]</text><text x="-1730.5" y="743.8">(5.75, 6]</text><text x="-1730.5" y="749.8">(6, 6.25]</text><text x="-1730.5" y="755.8">(6.25, 6.5]</text><text x="-1730.5" y="761.8">(6.5, 6.75]</text><text x="-1730.5" y="767.8">(6.75, 7]</text><text x="-1730.5" y="773.8">(7, 7.25]</text><text x="-1730.5" y="779.8">(7.25, 7.5]</text><text x="-1730.5" y="785.8">(7.5, 7.75]</text><text x="-1730.5" y="791.8">(7.75, 8]</text><text x="-1730.5" y="797.8">(8, 8.25]</text><text x="-1730.5" y="803.8">(8.25, 8.5]</text><text x="-1730.5" y="809.8">(8.5, 8.75]</text><text x="-1730.5" y="815.8">(8.75, 9]</text><text x="-1730.5" y="821.9">(9, 9.25]</text><text x="-1730.5" y="827.9">(9.25, 9.5]</text><text x="-1730.5" y="833.9">(9.5, 9.75]</text><text x="-1730.5" y="839.9">(9.75, 10]</text>
</g>
<g transform="rotate(-90)" font-size="3.5" fill="#333">
<text x="-1726.8" y="605.6">2</text><text x="-1726.8" y="611.6">3</text><text x="-1726.75" y="617.6">7</text><text x="-1726.7" y="623.6">16</text><text x="-1726.4" y="629.6">52</text><text x="-1725.3" y="635.6">209</text><text x="-1723.6" y="641.6">455</text><text x="-1720.5" y="647.7">899</text><text x="-1714.2" y="653.7">1783</text><text x="-1706" y="659.7">2955</text><text x="-1694" y="665.7">4656</text><text x="-1679.3" y="671.7">6752</text><text x="-1662.5" y="677.7">9131</text><text x="-1644.4" y="683.7">11708</text><text x="-1624" y="689.7">14608</text><text x="-1606.1" y="695.7">17146</text><text x="-1589" y="701.7">19576</text><text x="-1575.7" y="707.7">21462</text><text x="-1564.5" y="713.7">23058</text><text x="-1557.3" y="719.7">24071</text><text x="-1554.6" y="725.7">24463</text><text x="-1559" y="731.7">23842</text><text x="-1567.9" y="737.8">22577</text><text x="-1580.4" y="743.8">20796</text><text x="-1595.7" y="749.8">18615</text><text x="-1613.7" y="755.8">16067</text><text x="-1630.4" y="761.8">13688</text><text x="-1646.8" y="767.8">11358</text><text x="-1660.6" y="773.8">9406</text><text x="-1673.8" y="779.8">7527</text><text x="-1684.5" y="785.8">6010</text><text x="-1693.4" y="791.8">4741</text><text x="-1699.8" y="797.8">3842</text><text x="-1705" y="803.8">3092</text><text x="-1709.1" y="809.8">2520</text><text x="-1713.2" y="815.8">1935</text><text x="-1717.1" y="821.9">1384</text><text x="-1720.9" y="827.9">833</text><text x="-1723.5" y="833.9">462</text><text x="-1725.8" y="839.9">141</text>
</g>

<text x="984" y="1742.7" text-anchor="middle" font-family="Liberation Sans, sans-serif" font-size="13.5" fill="#8a8a8a">68</text>
</svg>

<!-- ===== Table slide 1 ===== -->
<div class="c l" style="left:746px;top:61px;width:139px;height:22px"></div>
<div class="c" style="left:887px;top:61px;width:101px;height:22px;background:#4472c4"></div>

<div class="c l" style="left:746px;top:85px;width:139px;height:32px">Số thí sinh</div>
<div class="c v w d" style="left:887px;top:85px;width:101px;height:32px">351,848</div>
<div class="c l" style="left:746px;top:118px;width:139px;height:35px">ĐTB</div>
<div class="c v w e r" style="left:887px;top:118px;width:101px;height:35px">5.38</div>
<div class="c l" style="left:746px;top:154px;width:139px;height:35px">Trung vị</div>
<div class="c v w d" style="left:887px;top:154px;width:101px;height:35px">5.25</div>
<div class="c l" style="left:746px;top:190px;width:139px;height:35px">Độ lệch chuẩn</div>
<div class="c v w e r" style="left:887px;top:190px;width:101px;height:35px">1.45</div>
<div class="c l" style="left:746px;top:226px;width:139px;height:35px">Số điểm 10</div>
<div class="c v w d r" style="left:887px;top:226px;width:101px;height:35px">141</div>
<div class="c l" style="left:746px;top:262px;width:139px;height:36px">Số điểm 0</div>
<div class="c v w e" style="left:887px;top:262px;width:101px;height:36px">2</div>

<!-- ===== Table slide 2 ===== -->
<div style="position:absolute;left:52px;top:659px;width:925px;height:508px;background:#fff"></div>
<div class="c h" style="left:52px;top:659px;width:355px;height:52px">NĂM</div>
<div class="c h" style="left:409px;top:659px;width:280px;height:52px">2024</div>
<div class="c h" style="left:691px;top:659px;width:286px;height:52px">2025</div>

<div class="c l" style="left:52px;top:713px;width:355px;height:42px">Tổng số thí sinh</div>
<div class="c v d" style="left:409px;top:713px;width:155px;height:42px;padding-right:4px">906,549</div>
<div class="c v d" style="left:566px;top:713px;width:123px;height:42px"></div>
<div class="c v d" style="left:691px;top:713px;width:140px;height:42px">351,848</div>
<div class="c v d" style="left:833px;top:713px;width:144px;height:42px"></div>

<div class="c l" style="left:52px;top:756px;width:355px;height:36px">Điểm trung bình</div>
<div class="c v e r" style="left:409px;top:756px;width:155px;height:36px;padding-right:4px">5.51</div>
<div class="c v e" style="left:566px;top:756px;width:123px;height:36px"></div>
<div class="c v e r" style="left:691px;top:756px;width:140px;height:36px">5.38</div>
<div class="c v e" style="left:833px;top:756px;width:144px;height:36px"></div>

<div class="c l" style="left:52px;top:793px;width:355px;height:35px">Trung vị</div>
<div class="c v d" style="left:409px;top:793px;width:155px;height:35px;padding-right:4px">5.2</div>
<div class="c v d" style="left:566px;top:793px;width:123px;height:35px"></div>
<div class="c v d" style="left:691px;top:793px;width:140px;height:35px">5.25</div>
<div class="c v d" style="left:833px;top:793px;width:144px;height:35px"></div>

<div class="c l" style="left:52px;top:829px;width:355px;height:35px">Độ lệch chuẩn</div>
<div class="c v e r" style="left:409px;top:829px;width:155px;height:35px;padding-right:4px">1.88</div>
<div class="c v e" style="left:566px;top:829px;width:123px;height:35px"></div>
<div class="c v e r" style="left:691px;top:829px;width:140px;height:35px">1.45</div>
<div class="c v e" style="left:833px;top:829px;width:144px;height:35px"></div>

<div class="c l" style="left:52px;top:865px;width:355px;height:35px">Độ lệch tuyệt đối trung vị (MAD)</div>
<div class="c v d" style="left:409px;top:865px;width:155px;height:35px;padding-right:4px">1.56</div>
<div class="c v d" style="left:566px;top:865px;width:123px;height:35px"></div>
<div class="c v d" style="left:691px;top:865px;width:140px;height:35px">1.16</div>
<div class="c v d" style="left:833px;top:865px;width:144px;height:35px"></div>

<div class="c l" style="left:52px;top:901px;width:355px;height:36px">Điểm dưới trung bình (&lt;5)</div>
<div class="c v e" style="left:409px;top:901px;width:155px;height:36px;padding-right:4px">386,861</div>
<div class="c v e" style="left:566px;top:901px;width:123px;height:36px;padding-right:6px">42.674 %</div>
<div class="c v e" style="left:691px;top:901px;width:140px;height:36px">134,478</div>
<div class="c v e" style="left:833px;top:901px;width:144px;height:36px">38.22 %</div>

<div class="c l" style="left:52px;top:938px;width:355px;height:44px">Điểm lớn hơn hoặc bằng 7 (&gt;=7)</div>
<div class="c v d" style="left:409px;top:938px;width:155px;height:44px;padding-right:4px">228,536</div>
<div class="c v d" style="left:566px;top:938px;width:123px;height:44px;padding-right:6px">25.209 %</div>
<div class="c v d" style="left:691px;top:938px;width:140px;height:44px">53,251</div>
<div class="c v d" style="left:833px;top:938px;width:144px;height:44px">15.135 %</div>

<div class="c l" style="left:52px;top:983px;width:355px;height:39px">Điểm nhiều thí sinh đạt được nhất</div>
<div class="c v e" style="left:409px;top:983px;width:155px;height:39px;padding-right:4px">4.6</div>
<div class="c v e" style="left:566px;top:983px;width:123px;height:39px"></div>
<div class="c v e" style="left:691px;top:983px;width:140px;height:39px">5.25</div>
<div class="c v e" style="left:833px;top:983px;width:144px;height:39px"></div>

<div class="c l" style="left:52px;top:1023px;width:355px;height:34px">Số lượng thí sinh đạt điểm 10</div>
<div class="c v d r" style="left:409px;top:1023px;width:155px;height:34px;padding-right:4px">565</div>
<div class="c v d" style="left:566px;top:1023px;width:123px;height:34px"></div>
<div class="c v d r" style="left:691px;top:1023px;width:140px;height:34px">141</div>
<div class="c v d" style="left:833px;top:1023px;width:144px;height:34px"></div>

<div class="c l" style="left:52px;top:1058px;width:355px;height:36px">Số lượng thí sinh đạt điểm 0</div>
<div class="c v e" style="left:409px;top:1058px;width:155px;height:36px;padding-right:4px">14</div>
<div class="c v e" style="left:566px;top:1058px;width:123px;height:36px"></div>
<div class="c v e" style="left:691px;top:1058px;width:140px;height:36px">2</div>
<div class="c v e" style="left:833px;top:1058px;width:144px;height:36px"></div>

<div class="c l" style="left:52px;top:1095px;width:355px;height:35px">Số thí sinh đạt điểm &lt;=1</div>
<div class="c v d" style="left:409px;top:1095px;width:155px;height:35px;padding-right:4px">145</div>
<div class="c v d" style="left:566px;top:1095px;width:123px;height:35px;padding-right:6px">0.016 %</div>
<div class="c v d" style="left:691px;top:1095px;width:140px;height:35px">28</div>
<div class="c v d" style="left:833px;top:1095px;width:144px;height:35px">0.008 %</div>

<div class="c l" style="left:52px;top:1131px;width:355px;height:36px">Tỉ lệ điểm 10 trên 1000 thí sinh</div>
<div class="c v e" style="left:409px;top:1131px;width:155px;height:36px;padding-right:4px">0.6232</div>
<div class="c v e" style="left:566px;top:1131px;width:123px;height:36px"></div>
<div class="c v e" style="left:691px;top:1131px;width:140px;height:36px">0.4007</div>
<div class="c v e" style="left:833px;top:1131px;width:144px;height:36px"></div>

</body></html>
